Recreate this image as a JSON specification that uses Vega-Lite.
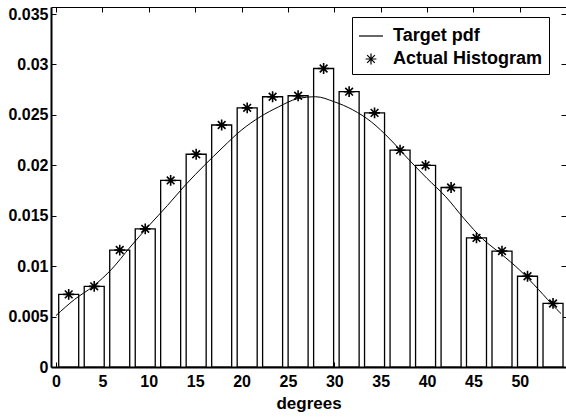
{
  "$schema": "https://vega.github.io/schema/vega-lite/v6.json",
  "autosize": "none",
  "width": 515,
  "height": 360,
  "padding": {"left": 51, "top": 7, "right": 0, "bottom": 50},
  "background": "white",
  "config": {
    "view": {"stroke": null},
    "font": "Liberation Sans",
    "axis": {
      "grid": false,
      "domainColor": "black",
      "domainWidth": 2,
      "tickColor": "black",
      "tickWidth": 1,
      "tickSize": -5,
      "labelFont": "Liberation Sans",
      "labelFontWeight": "bold",
      "labelFontSize": 16,
      "labelColor": "black",
      "titleFont": "Liberation Sans",
      "titleFontWeight": "bold",
      "titleFontSize": 17,
      "titleColor": "black"
    },
    "legend": {
      "labelFont": "Liberation Sans",
      "labelFontWeight": "bold",
      "labelFontSize": 18,
      "labelColor": "black",
      "strokeColor": "black",
      "fillColor": "white"
    }
  },
  "datasets": {
    "hist": [
      {"deg": 1.37, "freq": 0.0072, "series": "Actual Histogram"},
      {"deg": 4.12, "freq": 0.0080, "series": "Actual Histogram"},
      {"deg": 6.87, "freq": 0.0116, "series": "Actual Histogram"},
      {"deg": 9.62, "freq": 0.0137, "series": "Actual Histogram"},
      {"deg": 12.36, "freq": 0.0185, "series": "Actual Histogram"},
      {"deg": 15.11, "freq": 0.0211, "series": "Actual Histogram"},
      {"deg": 17.86, "freq": 0.0240, "series": "Actual Histogram"},
      {"deg": 20.61, "freq": 0.0257, "series": "Actual Histogram"},
      {"deg": 23.35, "freq": 0.0268, "series": "Actual Histogram"},
      {"deg": 26.10, "freq": 0.0269, "series": "Actual Histogram"},
      {"deg": 28.85, "freq": 0.0296, "series": "Actual Histogram"},
      {"deg": 31.60, "freq": 0.0273, "series": "Actual Histogram"},
      {"deg": 34.34, "freq": 0.0252, "series": "Actual Histogram"},
      {"deg": 37.09, "freq": 0.0215, "series": "Actual Histogram"},
      {"deg": 39.84, "freq": 0.0200, "series": "Actual Histogram"},
      {"deg": 42.59, "freq": 0.0178, "series": "Actual Histogram"},
      {"deg": 45.33, "freq": 0.0128, "series": "Actual Histogram"},
      {"deg": 48.08, "freq": 0.0115, "series": "Actual Histogram"},
      {"deg": 50.83, "freq": 0.0090, "series": "Actual Histogram"},
      {"deg": 53.58, "freq": 0.0063, "series": "Actual Histogram"}
    ],
    "pdf": [
      {"deg": 0, "p": 0.0051},
      {"deg": 2, "p": 0.0067},
      {"deg": 4, "p": 0.0080},
      {"deg": 6, "p": 0.0097},
      {"deg": 8, "p": 0.0119},
      {"deg": 10, "p": 0.0140},
      {"deg": 12, "p": 0.0160},
      {"deg": 14, "p": 0.0181},
      {"deg": 16, "p": 0.0200},
      {"deg": 18, "p": 0.0218},
      {"deg": 20, "p": 0.0235},
      {"deg": 22, "p": 0.0248},
      {"deg": 24, "p": 0.0258},
      {"deg": 26, "p": 0.0266},
      {"deg": 28, "p": 0.0268},
      {"deg": 30, "p": 0.0263},
      {"deg": 32, "p": 0.0255},
      {"deg": 34, "p": 0.0243},
      {"deg": 36, "p": 0.0226},
      {"deg": 38, "p": 0.0206},
      {"deg": 40, "p": 0.0187},
      {"deg": 42, "p": 0.0169},
      {"deg": 44, "p": 0.0147},
      {"deg": 46, "p": 0.0127},
      {"deg": 48, "p": 0.0112},
      {"deg": 50, "p": 0.0096},
      {"deg": 52, "p": 0.0077},
      {"deg": 54, "p": 0.0057},
      {"deg": 54.44, "p": 0.0053}
    ]
  },
  "resolve": {"axis": {"x": "independent", "y": "independent"}},
  "layer": [
    {
      "data": {"name": "hist"},
      "mark": {"type": "bar", "size": 20, "fill": "white", "stroke": "black", "strokeWidth": 1.3, "clip": true},
      "encoding": {
        "x": {"field": "deg", "type": "quantitative", "scale": {"domain": [0, 54.44], "nice": false, "zero": false},
              "axis": {"values": [0,5,10,15,20,25,30,35,40,45,50], "title": "degrees", "labelPadding": 11, "titlePadding": 6, "labelFlush": false}},
        "y": {"field": "freq", "type": "quantitative", "scale": {"domain": [0, 0.0357], "nice": false},
              "axis": {"values": [0,0.005,0.01,0.015,0.02,0.025,0.03,0.035], "format": "~g", "title": null, "labelPadding": 8, "labelFlush": false}}
      }
    },
    {
      "data": {"name": "pdf"},
      "mark": {"type": "line", "color": "black", "strokeWidth": 1, "interpolate": "monotone", "clip": true},
      "encoding": {
        "x": {"field": "deg", "type": "quantitative", "axis": {"orient": "top", "values": [0,5,10,15,20,25,30,35,40,45,50], "labels": false, "title": null, "domainWidth": 1}},
        "y": {"field": "p", "type": "quantitative", "axis": {"orient": "right", "values": [0,0.005,0.01,0.015,0.02,0.025,0.03,0.035], "labels": false, "title": null, "domainWidth": 1}}
      }
    },
    {
      "data": {"name": "hist"},
      "mark": {"type": "point", "filled": false, "stroke": "black", "strokeWidth": 1.6, "size": 576, "opacity": 1, "clip": true},
      "encoding": {
        "x": {"field": "deg", "type": "quantitative", "axis": null},
        "y": {"field": "freq", "type": "quantitative", "axis": null},
        "shape": {
          "field": "series", "type": "nominal",
          "scale": {"domain": ["Target pdf", "Actual Histogram"], "range": ["M-1,0L1,0", "M-0.45,0L0.45,0M0,-0.45L0,0.45M-0.32,-0.32L0.32,0.32M-0.32,0.32L0.32,-0.32"]},
          "legend": {"orient": "none", "legendX": 301, "legendY": 10, "title": null, "symbolSize": 576, "symbolStrokeColor": "black", "symbolStrokeWidth": 1.2, "symbolFillColor": "transparent", "padding": 6, "rowPadding": 1, "labelOffset": 9, "labelLimit": 300}
        }
      }
    }
  ]
}
